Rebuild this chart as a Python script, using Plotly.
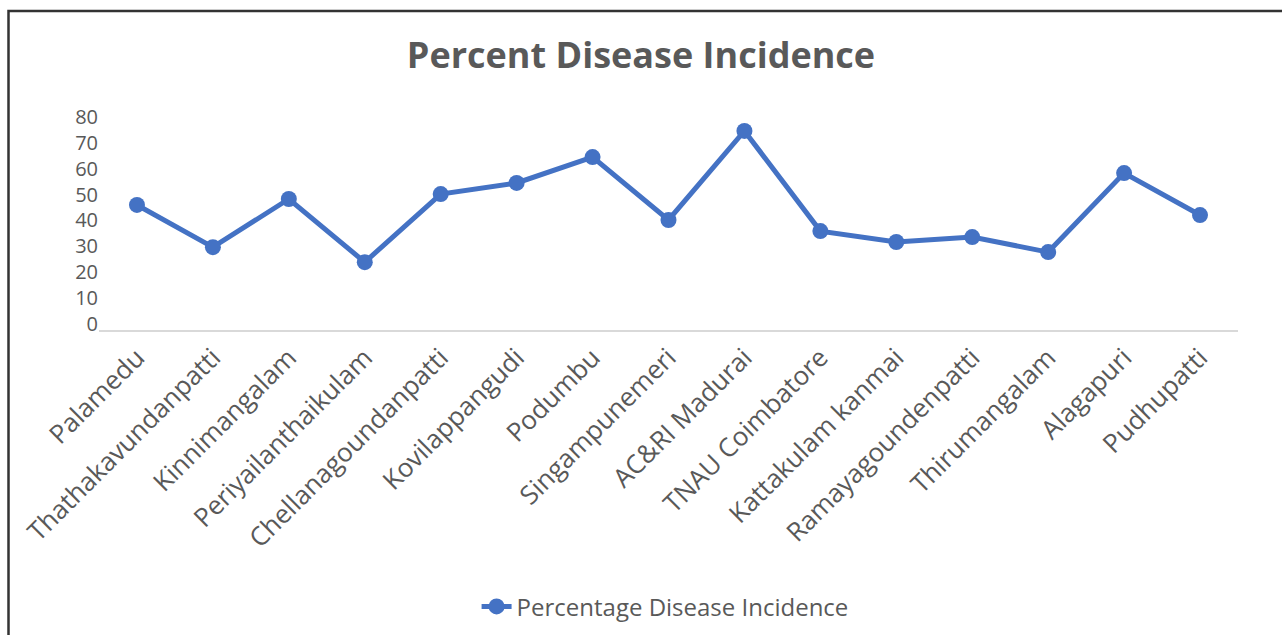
import plotly.graph_objects as go

locations = [
    "Palamedu", "Thathakavundanpatti", "Kinnimangalam", "Periyailanthaikulam",
    "Chellanagoundanpatti", "Kovilappangudi", "Podumbu", "Singampunemeri",
    "AC&RI Madurai", "TNAU Coimbatore", "Kattakulam kanmai", "Ramayagoundenpatti",
    "Thirumangalam", "Alagapuri", "Pudhupatti",
]
incidence = [46.0, 29.7, 48.3, 23.9, 50.2, 54.5, 64.5, 40.2, 74.6, 35.9, 31.7, 33.6, 27.8, 58.3, 42.1]
y_ticks = [0, 10, 20, 30, 40, 50, 60, 70, 80]

W, H = 1282, 635
ML, MR, MT, MB = 99, 44, 104, 305
TEXT = "#595959"
BLUE = "#4472C4"
FONT = "Open Sans"

fig = go.Figure()
fig.add_trace(go.Scatter(
    x=locations, y=incidence, mode="lines+markers",
    name="Percentage Disease Incidence",
    line=dict(color=BLUE, width=5),
    marker=dict(color=BLUE, size=16),
))

# pixel -> paper coordinate helpers for the outer frame
px_to_x = lambda px: (px - ML) / (W - ML - MR)
px_to_y = lambda py: (H - MB - py) / (H - MT - MB)

fig.update_layout(
    width=W, height=H,
    margin=dict(l=ML, r=MR, t=MT, b=MB, autoexpand=False),
    paper_bgcolor="white", plot_bgcolor="white",
    font=dict(family=FONT, color=TEXT, size=20),
    title=dict(text="<b>Percent Disease Incidence</b>", x=0.5, xanchor="center",
               y=1 - 55 / H, yanchor="middle",
               font=dict(family=FONT, size=36, color=TEXT)),
    showlegend=True,
    legend=dict(orientation="h", x=0.497, xanchor="center", y=-1.225, yanchor="middle",
                font=dict(family=FONT, size=24, color=TEXT)),
    xaxis=dict(type="category", range=[-0.5, 14.5], showgrid=False,
               showline=True, linecolor="#d9d9d9", linewidth=2,
               tickangle=-45, ticks="", tickfont=dict(size=26, color=TEXT)),
    yaxis=dict(range=[-2.3, 85], tickvals=y_ticks, showgrid=False, zeroline=False,
               showline=False, ticks="", tickfont=dict(size=20, color=TEXT)),
    shapes=[
        dict(type="rect", xref="paper", yref="paper",
             x0=px_to_x(8.5), x1=px_to_x(W + 20), y0=px_to_y(H + 20), y1=px_to_y(11),
             line=dict(color="#333333", width=2.5), fillcolor="rgba(0,0,0,0)",
             layer="below"),
    ],
)

fig.write_html("out.html")
